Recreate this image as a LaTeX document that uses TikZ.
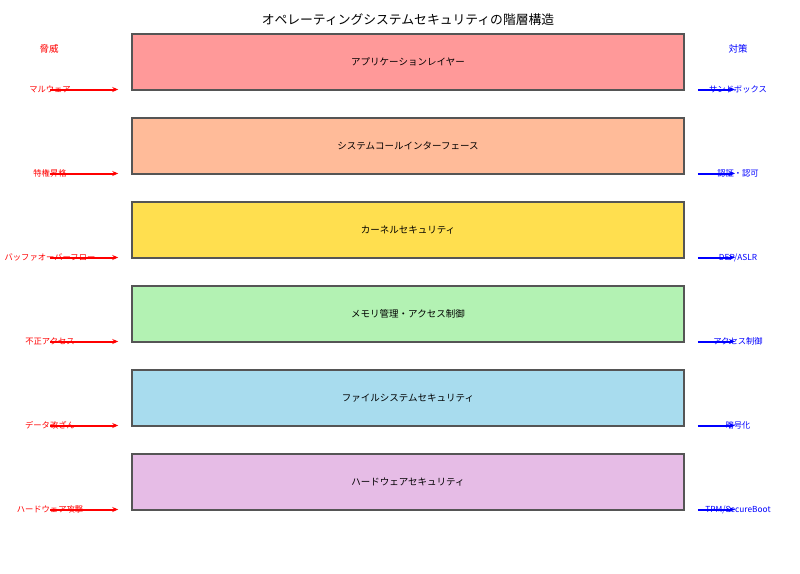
\documentclass[tikz,border=0pt]{standalone}
\usepackage{fontspec}
\setmainfont{Noto Sans CJK JP}
\usepackage{tikz}
\usetikzlibrary{positioning,calc,arrows.meta}
\definecolor{ink}     {HTML}{555555}
\definecolor{threat}  {HTML}{FF0000}
\definecolor{guard}   {HTML}{0000FF}
\definecolor{appfill} {HTML}{FF9999}
\definecolor{sysfill} {HTML}{FFBB99}
\definecolor{kerfill} {HTML}{FFDF4F}
\definecolor{memfill} {HTML}{B3F2B3}
\definecolor{filfill} {HTML}{A8DCEE}
\definecolor{hwfill}  {HTML}{E6BCE6}
\tikzset{
  % --- nodes
  layer/.style  = {draw=ink, line width=1.5pt, minimum width=552pt, minimum height=56pt,
                   inner sep=0pt, font=\fontsize{9.5}{11}\selectfont},
  head/.style   = {font=\fontsize{9.5}{11}\selectfont},
  tlab/.style   = {text=threat, font=\fontsize{8.3}{9}\selectfont, inner sep=0pt},
  clab/.style   = {text=guard, font=\fontsize{8.3}{9}\selectfont, inner sep=0pt},
  % --- edges
  tarr/.style   = {-{Stealth[length=6pt,width=5pt]}, draw=threat, line width=2pt, shorten >=13pt},
  carr/.style   = {-{Stealth[length=6pt,width=5pt]}, draw=guard, line width=2pt,
                   shorten <=13pt, shorten >=3pt},
}
\begin{document}
\begin{tikzpicture}[x=1pt,y=-1pt]
  \useasboundingbox (0,0) rectangle (800,573);

  % title
  \node[font=\fontsize{12.8}{14}\selectfont] (title) at (408,20)
    {オペレーティングシステムセキュリティの階層構造};

  % column heads
  \node[head, text=threat] (thead) at (49,49) {脅威};
  \node[head, text=guard]  (chead) at (738,49) {対策};

  % layers, top to bottom: index / fill / name / threat / countermeasure
  \foreach \i/\f/\name/\thr/\cm in {
      1/appfill/アプリケーションレイヤー/マルウェア/サンドボックス,
      2/sysfill/システムコールインターフェース/特権昇格/認証・認可,
      3/kerfill/カーネルセキュリティ/バッファオーバーフロー/DEP\slash ASLR,
      4/memfill/メモリ管理・アクセス制御/不正アクセス/アクセス制御,
      5/filfill/ファイルシステムセキュリティ/データ改ざん/暗号化,
      6/hwfill/ハードウェアセキュリティ/ハードウェア攻撃/TPM\slash SecureBoot}
  {
    \node[layer, fill=\f] (lay\i) at (408,{62+84*(\i-1)}) {\name};
    \node[tlab] (thr\i) at (50,{89.5+84*(\i-1)}) {\thr};
    \node[clab] (cm\i)  at (738,{89.5+84*(\i-1)}) {\cm};
    \draw[tarr] (thr\i.center) -- (thr\i.center -| lay\i.west);
    \draw[carr] (cm\i.center -| lay\i.east) -- (cm\i.center);
  }
\end{tikzpicture}
\end{document}
